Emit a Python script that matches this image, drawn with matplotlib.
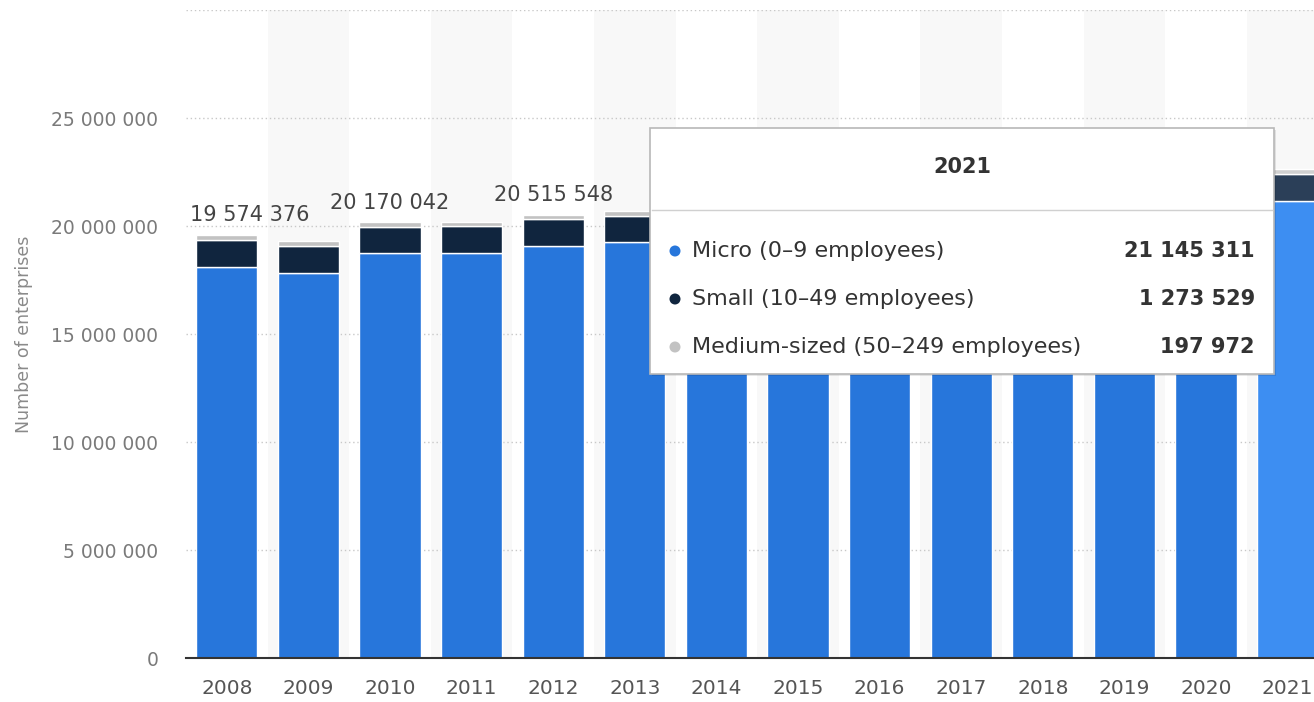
import matplotlib
matplotlib.use("Agg")
import matplotlib.pyplot as plt
from matplotlib.patches import Rectangle, Circle
import numpy as np

# ---------------- data ----------------
years = ["2008", "2009", "2010", "2011", "2012", "2013", "2014",
         "2015", "2016", "2017", "2018", "2019", "2020", "2021"]
micro = [18100000, 17840000, 18740000, 18760000, 19070000, 19260000, 19500000,
         19750000, 20100000, 20350000, 20600000, 20850000, 20950000, 21145311]
small = [1270376, 1250000, 1220042, 1220000, 1240548, 1220000, 1230000,
         1240000, 1250000, 1260000, 1265000, 1270000, 1260000, 1273529]
medium = [204000, 200000, 210000, 210000, 205000, 200000, 200000,
          200000, 200000, 200000, 200000, 200000, 198000, 197972]
series_names = ["Micro (0–9 employees)", "Small (10–49 employees)",
                "Medium-sized (50–249 employees)"]
ytick_values = [0, 5000000, 10000000, 15000000, 20000000, 25000000, 30000000]
ytick_labels = ["0", "5 000 000", "10 000 000", "15 000 000", "20 000 000",
                "25 000 000", ""]
labeled_years = ["2008", "2010", "2012"]
tooltip_index = 13

# ---------------- style ----------------
W, H = 1314, 702
c_micro, c_small, c_medium = "#2776db", "#10253e", "#c2c2c2"
c_micro_hi, c_small_hi, c_medium_hi = "#3d8ef2", "#2b3f58", "#d0d0d0"

def fmt(v):
    return f"{v:,}".replace(",", " ")

fig = plt.figure(figsize=(W / 100, H / 100), dpi=100)
ax = fig.add_axes([186 / W, (H - 658) / H, (W - 186) / W, 648 / H])

x = np.arange(len(years))
totals = [m + s + d for m, s, d in zip(micro, small, medium)]

# alternating background bands
for i in x:
    if i % 2 == 1:
        ax.axvspan(i - 0.5, i + 0.5, color="#f8f8f8", zorder=0, lw=0)

# gridlines
for v in ytick_values[1:]:
    ax.axhline(v, color="#c8c8c8", lw=1, ls=(0, (1, 2)), zorder=0.5)

cm = [c_micro_hi if i == tooltip_index else c_micro for i in x]
cs = [c_small_hi if i == tooltip_index else c_small for i in x]
cd = [c_medium_hi if i == tooltip_index else c_medium for i in x]

bw = 0.75
ax.bar(x, micro, width=bw, color=cm, edgecolor="white", lw=1, zorder=2)
ax.bar(x, small, width=bw, bottom=micro, color=cs, edgecolor="white", lw=1, zorder=2)
ax.bar(x, medium, width=bw, bottom=np.array(micro) + np.array(small),
       color=cd, edgecolor="white", lw=1, zorder=2)

# data labels (visible ones)
for i in x:
    if years[i] in labeled_years:
        if i == 0:
            ax.annotate(fmt(totals[i]), (i - 0.45, totals[i]), xytext=(0, 7),
                        textcoords="offset points", ha="left", va="bottom",
                        fontsize=15, color="#444444", zorder=3)
        else:
            ax.annotate(fmt(totals[i]), (i, totals[i]), xytext=(0, 7),
                        textcoords="offset points", ha="center", va="bottom",
                        fontsize=15, color="#444444", zorder=3)

ax.set_xlim(-0.5, -0.5 + (W - 186) / 81.6)
ax.set_ylim(0, 30000000)
ax.set_xticks(x)
ax.set_xticklabels(years, fontsize=14.5, color="#555555")
ax.set_yticks(ytick_values)
ax.set_yticklabels(ytick_labels, fontsize=13.5, color="#7a7a7a")
ax.tick_params(axis="both", length=0)
ax.tick_params(axis="y", pad=20)
ax.tick_params(axis="x", pad=15)
for s in ["top", "right", "left"]:
    ax.spines[s].set_visible(False)
ax.spines["bottom"].set_color("#333333")
ax.spines["bottom"].set_linewidth(1.5)
ax.spines["bottom"].set_zorder(4)
ax.set_ylabel("Number of enterprises", fontsize=12.5, color="#8a8a8a")
ax.yaxis.set_label_coords(-(186 - 33) / (W - 186), 0.5)

# ---------------- tooltip ----------------
tx0, ty0, tw, th = 650, 128, 624, 246
tax = fig.add_axes([tx0 / W, (H - ty0 - th) / H, tw / W, th / H], zorder=10)
tax.set_xlim(0, tw)
tax.set_ylim(th, 0)
tax.axis("off")
fig.patches.append(Rectangle(((tx0 + 2) / W, (H - ty0 - th - 2) / H), tw / W, th / H,
                             transform=fig.transFigure, facecolor="#00000018",
                             edgecolor="none", zorder=9))
tax.add_patch(Rectangle((0, 0), tw, th, facecolor="white", edgecolor="#b8b8b8",
                        lw=1.2, clip_on=False))
tax.text(tw / 2, 39, years[tooltip_index], ha="center", va="center",
         fontsize=15, fontweight="bold", color="#333333")
tax.plot([2, tw - 2], [82, 82], color="#d0d0d0", lw=1)
vals = [micro[tooltip_index], small[tooltip_index], medium[tooltip_index]]
dots = [c_micro, c_small, c_medium]
for k, (name, v, dc) in enumerate(zip(series_names, vals, dots)):
    yy = 123 + 48 * k
    tax.add_patch(Circle((25, yy), 5.5, facecolor=dc, edgecolor="none"))
    tax.text(42, yy, name, ha="left", va="center", fontsize=16, color="#333333")
    tax.text(605, yy, fmt(v), ha="right", va="center", fontsize=15,
             fontweight="bold", color="#333333")

fig.savefig("out.png", dpi=100)
